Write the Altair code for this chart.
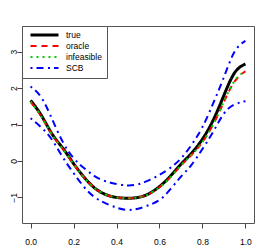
import altair as alt
import pandas as pd

x_vals = [0.0, 0.05, 0.10, 0.15, 0.20, 0.25, 0.30, 0.35, 0.40, 0.45, 0.50,
          0.55, 0.60, 0.65, 0.70, 0.75, 0.80, 0.85, 0.90, 0.95, 1.0]
true_y = [1.66, 1.25, 0.74, 0.35, -0.07, -0.45, -0.75, -0.92, -1.00, -1.02, -1.00,
          -0.90, -0.70, -0.42, -0.09, 0.22, 0.60, 1.12, 1.80, 2.42, 2.66]
oracle_y = [1.62, 1.22, 0.72, 0.33, -0.08, -0.46, -0.75, -0.92, -1.00, -1.02, -1.00,
            -0.91, -0.72, -0.45, -0.12, 0.17, 0.52, 1.00, 1.62, 2.18, 2.46]
infeasible_y = [1.63, 1.22, 0.72, 0.33, -0.08, -0.46, -0.75, -0.92, -1.00, -1.02, -1.00,
                -0.91, -0.72, -0.45, -0.12, 0.17, 0.52, 1.00, 1.63, 2.20, 2.47]
scb_upper = [2.04, 1.74, 1.15, 0.52, 0.08, -0.20, -0.42, -0.56, -0.63, -0.67, -0.64,
             -0.53, -0.38, -0.19, 0.07, 0.45, 0.93, 1.58, 2.30, 3.00, 3.29]
scb_lower = [1.17, 0.92, 0.58, 0.10, -0.33, -0.72, -1.00, -1.16, -1.28, -1.34, -1.31,
             -1.21, -1.07, -0.78, -0.43, -0.10, 0.33, 0.80, 1.30, 1.55, 1.64]

series_names = ["true", "oracle", "infeasible", "SCB"]
series_colors = ["black", "red", "#00cd00", "blue"]
series_dashes = [[1, 0], [6, 5], [2, 4], [2, 4, 7, 4.5]]
series_widths = [3, 2, 2, 2]
x_ticks = [0.0, 0.2, 0.4, 0.6, 0.8, 1.0]
y_ticks = [-1, 0, 1, 2, 3]

rows = []
for name, part, ys in [("true", "a", true_y), ("oracle", "a", oracle_y),
                       ("infeasible", "a", infeasible_y),
                       ("SCB", "upper", scb_upper), ("SCB", "lower", scb_lower)]:
    for xv, yv in zip(x_vals, ys):
        rows.append({"series": name, "part": part, "x": xv, "y": yv})
df = pd.DataFrame(rows)

legend = alt.Legend(
    title=None, orient="none", legendX=0, legendY=0,
    symbolType="stroke", symbolSize=784, clipHeight=8, rowPadding=2,
    padding=5, symbolOffset=2, labelOffset=6,
    strokeColor="#555", fillColor="white",
    labelFontSize=8.5, labelFont="Liberation Sans", labelColor="black",
)

base = alt.Chart(df).mark_line(interpolate="natural").encode(
    x=alt.X("x:Q", scale=alt.Scale(domain=[-0.04, 1.04], nice=False, zero=False),
            axis=alt.Axis(values=x_ticks, format=".1f", title=None)),
    y=alt.Y("y:Q", scale=alt.Scale(domain=[-1.7, 3.7], nice=False, zero=False),
            axis=alt.Axis(values=y_ticks, format="d", title=None, labelAngle=270,
                          labelAlign="center", labelBaseline="alphabetic")),
    color=alt.Color("series:N", scale=alt.Scale(domain=series_names, range=series_colors),
                    legend=legend),
    strokeDash=alt.StrokeDash("series:N", scale=alt.Scale(domain=series_names, range=series_dashes),
                              legend=legend),
    strokeWidth=alt.StrokeWidth("series:N", scale=alt.Scale(type="ordinal", domain=series_names,
                                                            range=series_widths),
                                legend=legend),
    detail="part:N",
)

layers = [base.transform_filter(alt.datum.series == s) for s in series_names]

chart = alt.layer(*layers).properties(
    width=232, height=197,
    autosize=alt.AutoSizeParams(type="none"),
    padding={"left": 14, "top": 18, "right": 12, "bottom": 26},
).configure_view(
    stroke="#555", strokeWidth=1
).configure_axis(
    grid=False, domain=False, ticks=True, tickSize=5, tickColor="#444",
    labelFont="Liberation Sans", labelFontSize=8.5, labelColor="black",
).configure_axisX(
    labelPadding=9
).configure_axisY(
    labelPadding=1
)

chart.save("out.html", embed_options={"renderer": "svg", "actions": False})
